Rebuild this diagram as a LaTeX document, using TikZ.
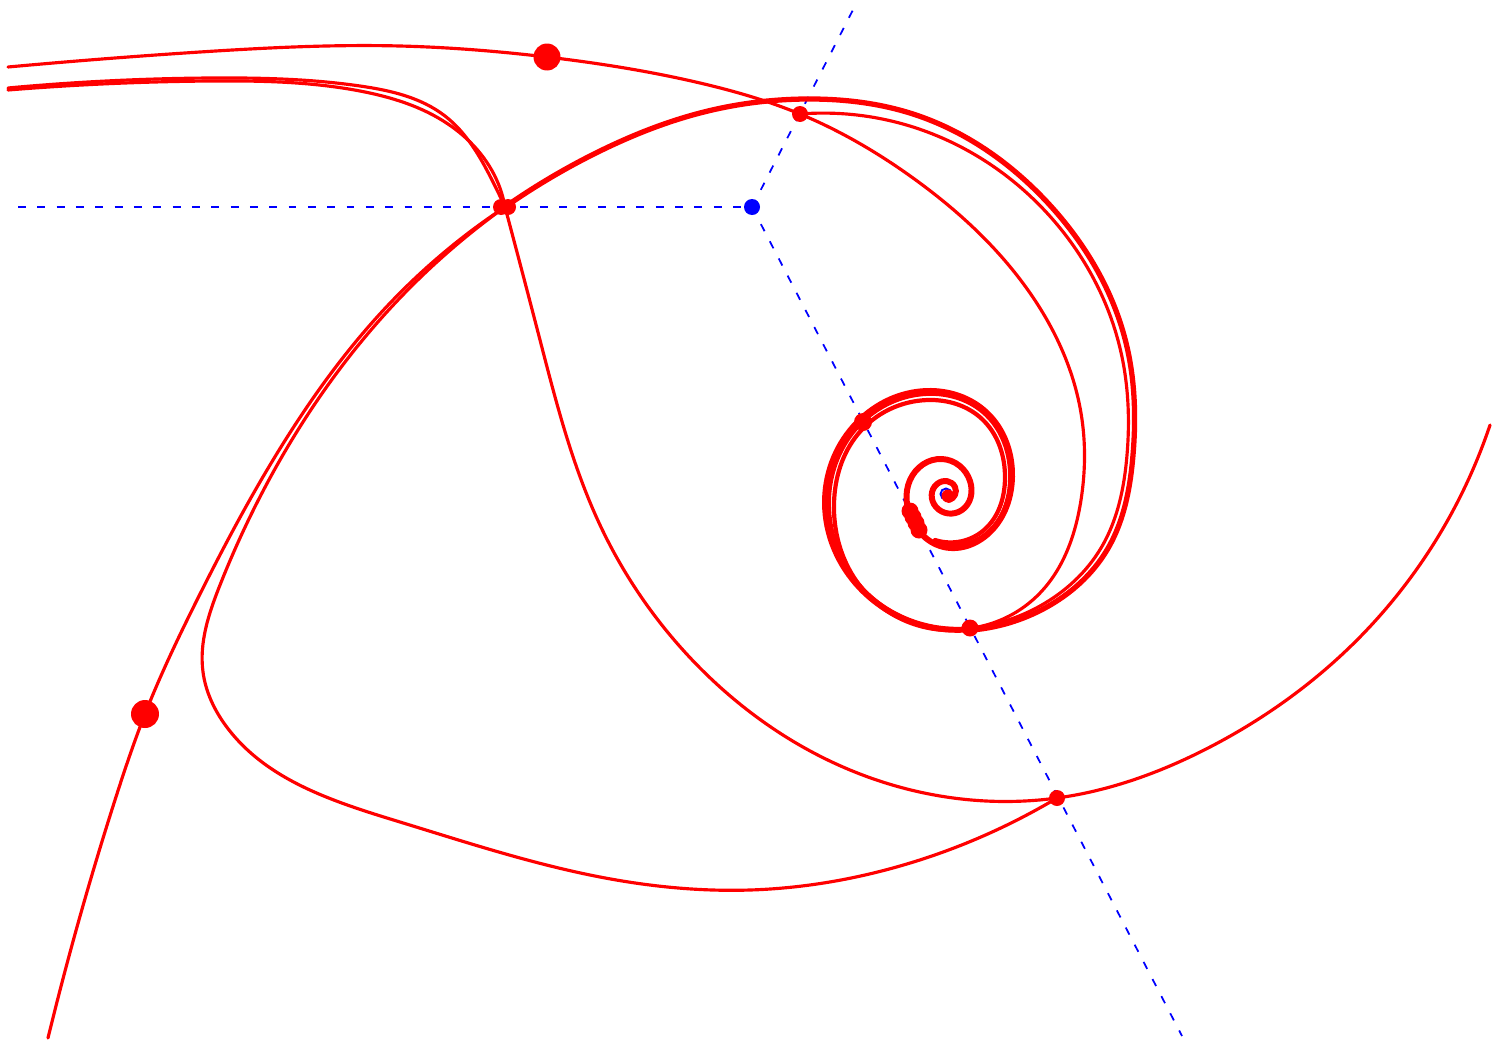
\documentclass[tikz,border=0pt]{standalone}
\usetikzlibrary{hobby}
\begin{document}
\begin{tikzpicture}[x=0.02cm,y=-0.02cm,
  curve/.style={red, line width=1.8pt, line cap=round, line join=round, use Hobby shortcut},
  thickcurve/.style={curve, line width=3.0pt},
  ray/.style={blue, line width=1.0pt, dash pattern=on 4.5pt off 6.5pt},
  rdot/.style={fill=red},
  bdot/.style={fill=blue}]
\useasboundingbox (0,0) rectangle (1497,1045);

% blue dashed rays
\coordinate (O) at (752,207);
\coordinate (H) at (18,207);
\coordinate (U) at (857,2);
\coordinate (D) at (1182,1036);
\draw[ray] (H) -- (O);
\draw[ray] (O) -- (U);
\draw[ray] (O) -- (D);

% S1: top thin curve with big dot, then inner loop into spiral
\draw[curve] (8,67) .. (200,52) .. (400,46) .. (547,57) .. (700,83) .. (800,114) .. (913,178) .. (1030,293) .. (1081,413) .. (1081,500) .. (1040,593) .. (972,628);

% S2: inner arc from dot
\draw[curve] (800,114) .. (913,127) .. (1047,213) .. (1122,357) .. (1127,455) .. (1101,548) .. (1040,606) .. (972,628);

% S3: thick outer arc
\draw[thickcurve] (505,207) .. (600,151) .. (700,113) .. (812,99) .. (913,114) .. (1047,202) .. (1127,347) .. (1133,455) .. (1107,550) .. (1045,608) .. (972,630);

% S4: lower-left curve with big dot
\draw[curve] (48,1038) .. (115,800) .. (145,714) .. (197,600) .. (273,460) .. (393,300) .. (505,207);

% S5: loop curve
\draw[curve] (505,207) .. (398,300) .. (280,460) .. (220,585) .. (203,672) .. (226,726) .. (400,822) .. (600,877) .. (750,890) .. (900,866) .. (1057,798);

% S6: top-left double strand
\draw[curve] (8,88) .. (210,78) .. (360,86) .. (445,116) .. (492,180) .. (505,207);
\draw[curve] (8,90) .. (210,81) .. (360,91) .. (448,124) .. (498,183) .. (505,207);

% S7: long curve down through (1057,798) to the right edge
\draw[curve] (505,207) .. (540,340) .. (600,525) .. (700,668) .. (850,770) .. (1057,798) .. (1210,747) .. (1360,637) .. (1490,425);

% spiral strands
\draw[curve, line width=2.4pt] (972,628) .. (866,593) .. (834,503) .. (858,434) .. (928,400) .. (982,419) .. (1005,478) .. (984,530) .. (935,540);
\draw[curve, line width=2.2pt] (972,628) .. (863,589) .. (829,503) .. (855,430) .. (927,394) .. (986,415) .. (1010,478) .. (987,533) .. (935,542);
\draw[curve, line width=3.4pt] (972,629) .. (860,588) .. (825,503) .. (853,427) .. (927,391) .. (987,413) .. (1012,477) .. (990,532) .. (940,546) .. (912,520) .. (910,480) .. (942,459) .. (970,481) .. (962,510) .. (936,507) .. (937,484) .. (955,487) .. (949,500);

% dots on rays and curves
\fill[rdot] (1057,798) circle[radius=0.16cm];
\fill[rdot] (970,628) circle[radius=0.17cm];
\fill[rdot] (863,422) circle[radius=0.18cm];
\fill[rdot] (800,114) circle[radius=0.16cm];
\fill[rdot] (501,207) circle[radius=0.16cm];
\fill[rdot] (508,207) circle[radius=0.16cm];
\fill[rdot] (910,511) circle[radius=0.17cm];
\fill[rdot] (913,517) circle[radius=0.17cm];
\fill[rdot] (916,523) circle[radius=0.17cm];
\fill[rdot] (919,530) circle[radius=0.17cm];
% big dots
\fill[rdot] (547,57) circle[radius=0.27cm];
\fill[rdot] (145,714) circle[radius=0.28cm];
% blue point
\fill[bdot] (752,207) circle[radius=0.16cm];
% spiral centre
\draw[blue, line width=1.1pt] (946,494) circle[radius=0.11cm];
\fill[rdot] (948,496) circle[radius=0.13cm];
\end{tikzpicture}
\end{document}
